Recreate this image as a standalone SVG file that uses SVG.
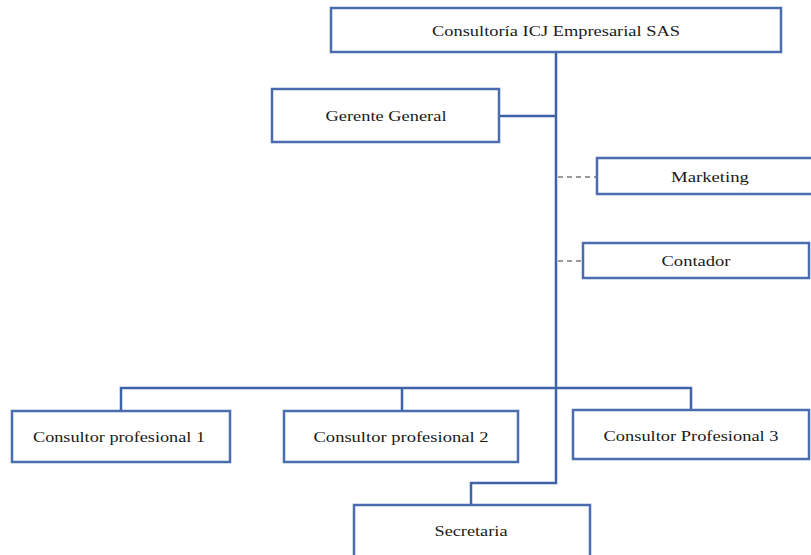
<svg xmlns="http://www.w3.org/2000/svg" width="811" height="555" viewBox="0 0 811 555">
<style>
.box{fill:#fff;stroke:#4a6db0;stroke-width:2.5}
.t{font-family:"Liberation Serif","Times New Roman",serif;font-size:15.5px;fill:#1a1a1a;text-anchor:middle;dominant-baseline:central}
.c{fill:none;stroke:#3f63a8;stroke-width:2.5}
.d{fill:none;stroke:#7a7a7a;stroke-width:1.5;stroke-dasharray:5,4}
</style>
<rect width="811" height="555" fill="#fff"/>
<g id="connectors">
<path class="c" d="M556 52V388"/>
<path class="c" d="M499 116H556"/>
<path class="d" d="M558 177H597"/>
<path class="d" d="M558 261H583"/>
<path class="c" d="M121 411V388H691V410"/>
<path class="c" d="M402 388V411"/>
<path class="c" d="M556 388V483H471V505"/>
</g>
<g id="n-top"><rect class="box" x="331" y="8" width="450" height="44"/><text class="t" x="556" y="30" textLength="248" lengthAdjust="spacingAndGlyphs">Consultoría ICJ Empresarial SAS</text></g>
<g id="n-gerente"><rect class="box" x="272" y="89" width="227" height="53"/><text class="t" x="386" y="115" textLength="121" lengthAdjust="spacingAndGlyphs">Gerente General</text></g>
<g id="n-marketing"><rect class="box" x="597" y="158" width="216" height="36"/><text class="t" x="710" y="176" textLength="78" lengthAdjust="spacingAndGlyphs">Marketing</text></g>
<g id="n-contador"><rect class="box" x="583" y="243" width="226" height="35"/><text class="t" x="696" y="260" textLength="69" lengthAdjust="spacingAndGlyphs">Contador</text></g>
<g id="n-cp1"><rect class="box" x="12" y="411" width="218" height="51"/><text class="t" x="119" y="436" textLength="172" lengthAdjust="spacingAndGlyphs">Consultor profesional 1</text></g>
<g id="n-cp2"><rect class="box" x="284" y="411" width="234" height="51"/><text class="t" x="401" y="436" textLength="175" lengthAdjust="spacingAndGlyphs">Consultor profesional 2</text></g>
<g id="n-cp3"><rect class="box" x="573" y="410" width="236" height="49"/><text class="t" x="691" y="435" textLength="175" lengthAdjust="spacingAndGlyphs">Consultor Profesional 3</text></g>
<g id="n-secretaria"><rect class="box" x="354" y="505" width="236" height="52"/><text class="t" x="471" y="530" textLength="73" lengthAdjust="spacingAndGlyphs">Secretaria</text></g>
</svg>
